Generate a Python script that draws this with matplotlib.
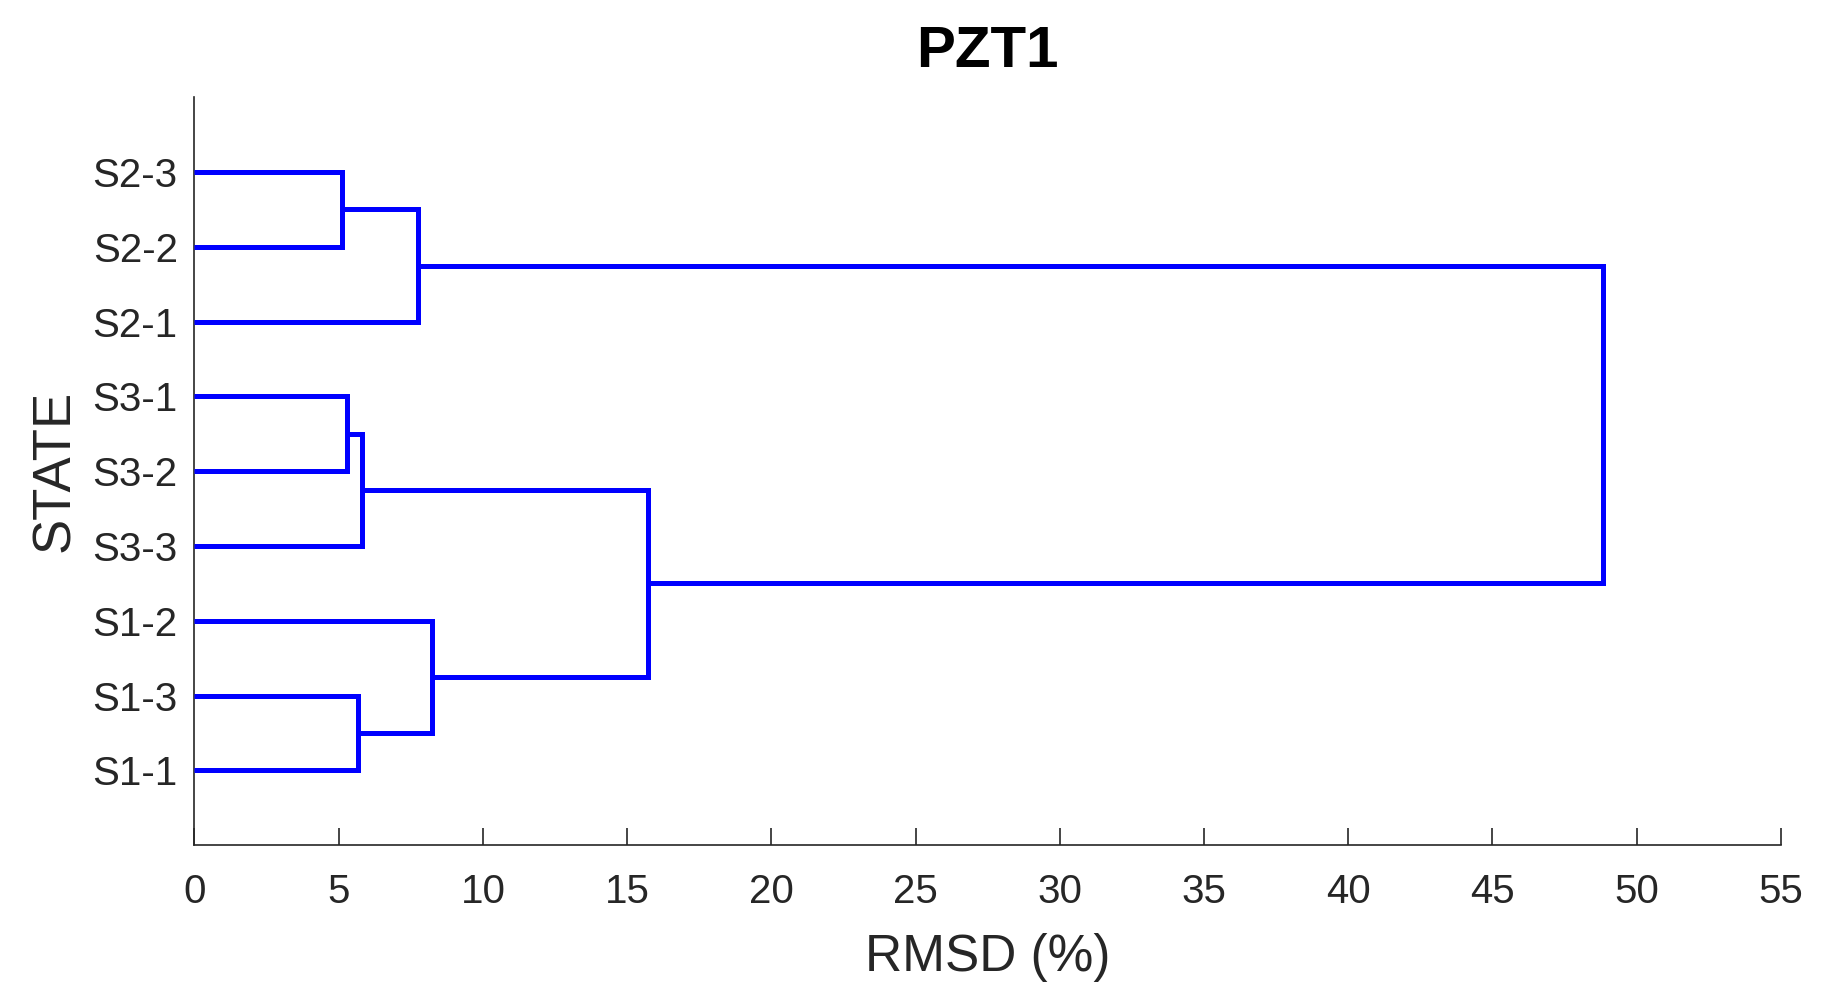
import matplotlib
matplotlib.use("Agg")
import matplotlib.pyplot as plt

# Leaf labels, bottom to top (leaf positions 1..9)
leaf_labels = ["S1-1", "S1-3", "S1-2", "S3-3", "S3-2", "S3-1", "S2-1", "S2-2", "S2-3"]

# Linkage: new cluster ids start at len(leaf_labels)
merge_a = [8, 5, 0, 10, 9, 11, 12, 15]
merge_b = [7, 4, 1, 3, 6, 2, 14, 13]
merge_h = [5.10, 5.30, 5.68, 5.80, 7.76, 8.25, 15.71, 48.83]

x_ticks = [0, 5, 10, 15, 20, 25, 30, 35, 40, 45, 50, 55]

plt.rcParams["font.family"] = ["Liberation Sans", "DejaVu Sans"]
fig = plt.figure(figsize=(18.36, 9.92), dpi=100)
ax = fig.add_axes([0.1059, 0.148, 0.970 - 0.1059, 0.902 - 0.148])

pos = {i: i + 1 for i in range(len(leaf_labels))}
hgt = {i: 0.0 for i in range(len(leaf_labels))}
n = len(leaf_labels)
for k, (a, b, h) in enumerate(zip(merge_a, merge_b, merge_h)):
    ya, yb = pos[a], pos[b]
    ax.plot([hgt[a], h, h, hgt[b]], [ya, ya, yb, yb], color=(0, 0, 1),
            lw=3.6, solid_joinstyle="miter", solid_capstyle="butt", zorder=3)
    pos[n + k] = (ya + yb) / 2
    hgt[n + k] = h

ax.set_xlim(0, 55)
ax.set_ylim(0, 10)
ax.set_xticks(x_ticks)
ax.set_xticklabels([str(t) for t in x_ticks])
ax.set_yticks(range(1, n + 1))
ax.set_yticklabels(leaf_labels)

grey = (0.15, 0.15, 0.15)
for s in ["top", "right"]:
    ax.spines[s].set_visible(False)
for s in ["left", "bottom"]:
    ax.spines[s].set_color(grey)
    ax.spines[s].set_linewidth(1.2)
ax.tick_params(axis="x", direction="in", length=12, width=1.2, color=grey,
               labelcolor=grey, labelsize=29, pad=20)
ax.tick_params(axis="y", direction="in", length=0, labelcolor=grey,
               labelsize=29, pad=12)

ax.set_xlabel("RMSD (%)", fontsize=37, color=grey, labelpad=16)
ax.set_ylabel("STATE", fontsize=38, color=grey, labelpad=9)
ax.set_title("PZT1", fontsize=42, fontweight="bold", color="black", pad=22)

fig.savefig("out.png", dpi=100, facecolor="white")
